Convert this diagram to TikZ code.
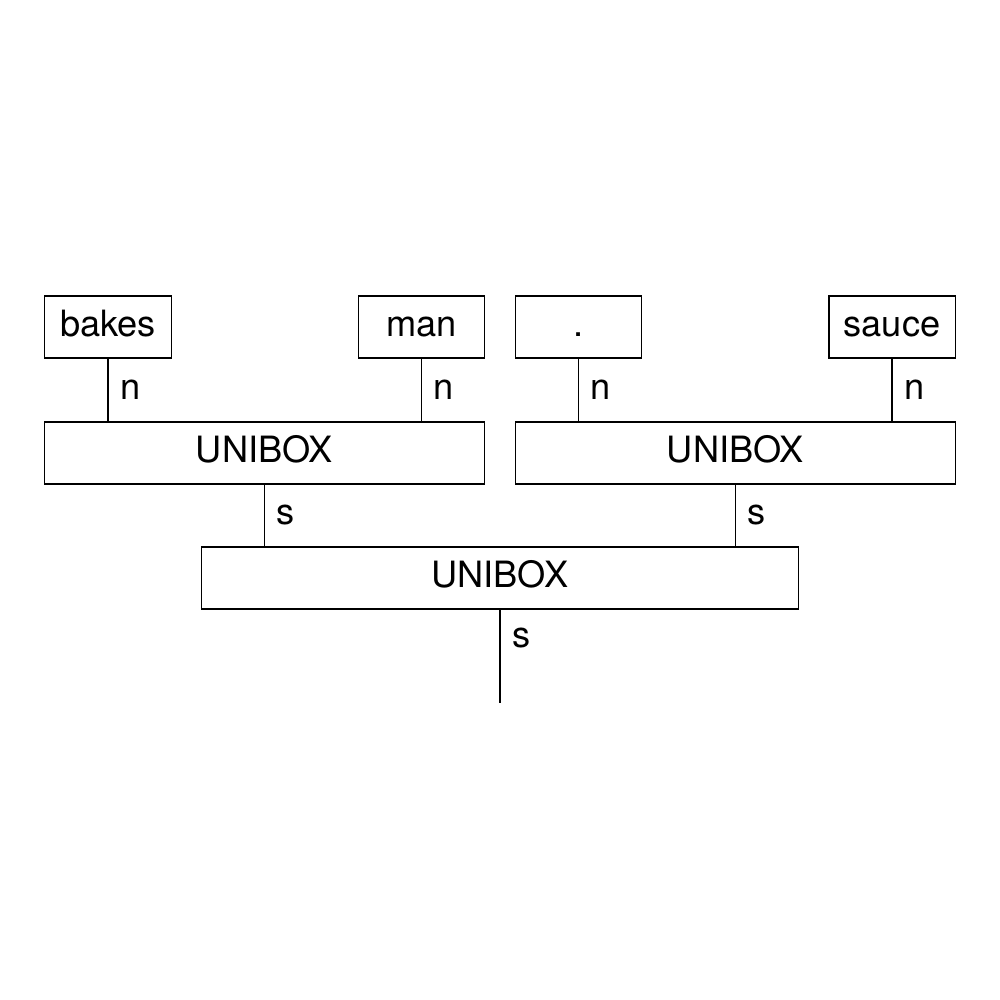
\documentclass[tikz,border=0pt]{standalone}
\usepackage{fontspec}
\setmainfont{TeX Gyre Heros}
\usetikzlibrary{positioning}

\begin{document}
\begin{tikzpicture}[x=0.01cm, y=-0.01cm, line width=0.3pt,
    word/.style={draw, rectangle, minimum width=1.26cm, minimum height=0.62cm, inner sep=0pt,
      text height=0.25cm, text depth=0.07cm, font=\fontsize{10.3}{12}\selectfont},
    unibox/.style={word, minimum width=4.39cm},
    wirelabel/.style={right, font=\fontsize{10.3}{12}\selectfont}]
    \useasboundingbox (0,0) rectangle (1000,1000);

    \node[word] (bakes) at (108,327) {bakes};
    \node[word] (man) at (421.5,327) {man};
    \node[word] (dot) at (578.5,327) {.};
    \node[word] (sauce) at (892,327) {sauce};

    \node[unibox] (ul) at (264.5,453) {UNIBOX};
    \node[unibox] (ur) at (735.5,453) {UNIBOX};
    \node[unibox, minimum width=5.96cm] (ub) at (500,578) {UNIBOX};
    \coordinate (out) at (500,703);

    \draw (bakes.south) -- node[wirelabel] {n} (bakes.south |- ul.north);
    \draw (man.south) -- node[wirelabel] {n} (man.south |- ul.north);
    \draw (dot.south) -- node[wirelabel] {n} (dot.south |- ur.north);
    \draw (sauce.south) -- node[wirelabel] {n} (sauce.south |- ur.north);

    \draw (ul.south) -- node[wirelabel] {s} (ul.south |- ub.north);
    \draw (ur.south) -- node[wirelabel] {s} (ur.south |- ub.north);
    \draw (ub.south) -- node[wirelabel, pos=0.3] {s} (out);
\end{tikzpicture}
\end{document}
